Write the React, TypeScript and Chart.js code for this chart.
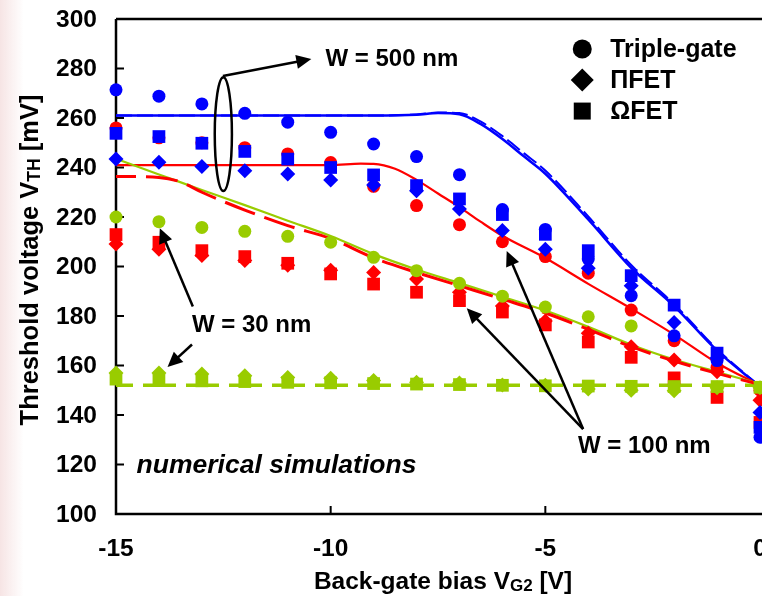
import React, { useEffect, useRef } from "react";
import { Chart, registerables } from "chart.js";

Chart.register(...registerables);

const BLUE = "#0000ff";
const RED = "#ff0000";
const GREEN = "#99cc00";
const FONT = "Arial, 'Liberation Sans', sans-serif";

// Back-gate bias steps (V)
const biasV = [-15, -14, -13, -12, -11, -10, -9, -8, -7, -6, -5, -4, -3, -2, -1, 0];
const yTickValues = [100, 120, 140, 160, 180, 200, 220, 240, 260, 280, 300];
const xTickValues = [-15, -10, -5, 0];

// Measured threshold voltage (mV) — Triple-gate (circles)
const tri500 = [271.4, 268.8, 265.7, 261.9, 258.3, 254.2, 249.5, 244.4, 237.1, 223, 215, 203, 188.2, 172, 162, 131];
const tri100 = [256, 252, 250, 248, 245.5, 242, 232.4, 224.6, 216.9, 210, 204, 197.3, 182.4, 170, 159.3, 150];
const tri30 = [220, 218.1, 215.8, 214.2, 212.2, 209.8, 203.7, 198.3, 193.2, 188, 183.6, 179.7, 176, null, null, null];

// ΠFET (diamonds)
const pi500 = [243.4, 242.1, 240.4, 238.7, 237.4, 235, 232.9, 230.6, 223.2, 214.5, 207, 199.3, 192.2, 177.4, 163, 141];
const pi100 = [209.1, 207, 204.4, 202.4, 200.5, 198.5, 197.6, 194.9, 189.6, 184, 178, 173, 167.6, 162.2, 157.5, 146];
const pi30 = [157, 157, 156.6, 155.9, 155.2, 154.8, 153.9, 153.2, 152.9, 152.1, 152, 150.5, 150, 149.8, 151, 151];

// ΩFET (squares)
const om500 = [253.8, 252.5, 249.8, 246.5, 243.4, 240, 237, 232.7, 227.3, 221, 213, 206.4, 196.3, 184.4, 165, 135];
const om100 = [212.9, 209.8, 206.4, 204, 201.3, 197, 192.9, 189.6, 186.2, 181.6, 176.4, 169.5, 163.3, 155, 147.1, 137];
const om30 = [154.5, 154, 153.8, 153.5, 153.2, 153, 152.7, 152.5, 152.3, 152, 151.8, 151.7, 151.6, 151.5, 151.5, 151.2];

// Numerical simulation curves
const sim500Bias = [-15, -12, -9, -8, -7.5, -7, -6.5, -6, -5.5, -5, -4, -3, -2, -1, 0];
const sim500Solid = [261, 261, 261, 261.3, 262, 261.5, 257.5, 251.5, 244.5, 237.5, 219, 199.5, 184, 166, 151.5];
const sim500Dash = [261, 261, 261, 261.4, 262.2, 262, 258.5, 252.7, 245.8, 238.8, 220.2, 200.6, 184.8, 166.6, 151.5];

const sim100Bias = [-15, -12, -10, -9.3, -9, -8.5, -8, -7.5, -7, -6.5, -6, -5, -4, -3, -2, -1, 0];
const sim100Solid = [241, 241, 241, 241.6, 241.5, 239.5, 235, 229.5, 224, 218, 212.4, 203.4, 193, 183, 172.5, 161, 152];

const sim100DashBias = [-15, -14, -13.5, -13, -12, -11, -10, -9, -8, -7, -6, -5, -4, -3, -2, -1, 0];
const sim100Dash = [236.4, 236, 234.2, 230, 222.8, 216.5, 211.3, 203.5, 197.6, 192.2, 186.8, 181.2, 174.6, 167.6, 161.8, 156.8, 152.3];

const sim30Bias = [-15, -14, -13, -12, -11, -10, -9, -8, -7, -6, -5, -4, -3, -2, -1, 0];
const sim30Solid = [243.5, 237.2, 230.9, 224.8, 218.5, 212.3, 205, 198.8, 193.3, 187.8, 182.2, 175.6, 168.4, 162.4, 157.4, 152.5];
const sim30FlatBias = [-15, 0];
const sim30Flat = [152, 152];

// Annotation anchors (bias V, mV)
const ellipse500 = { x: -12.5, y: 253.5, rx: 0.2, ry: 23 };
const arrow500 = { from: [-12.51, 277], to: [-10.45, 283.8] };
const label500 = { text: "W = 500 nm", x: -10.12, y: 283.8 };
const label30 = { text: "W = 30 nm", x: -13.23, y: 176.2 };
const arrows30 = [
  { from: [-13.21, 183.8], to: [-13.98, 215.5] },
  { from: [-13.23, 168.5], to: [-13.8, 159.4] },
];
const label100 = { text: "W = 100 nm", x: -4.24, y: 127.5 };
const arrows100 = [
  { from: [-4.12, 134.3], to: [-5.9, 206.3] },
  { from: [-4.12, 134.3], to: [-6.83, 183.1] },
];
const noteText = { text: "numerical simulations", x: -14.52, y: 119.5 };
const legendRows = [
  { shape: "circle", text: "Triple-gate", y: 287.9 },
  { shape: "diamond", text: "ΠFET", y: 275.4 },
  { shape: "square", text: "ΩFET", y: 262.8 },
];
const legendMarkerX = -4.14;
const legendTextX = -3.49;

type Pt = { x: number; y: number };
const pts = (xs: number[], ys: (number | null)[]): Pt[] =>
  xs
    .map((x, i) => ({ x, y: ys[i] as number }))
    .filter((p) => p.y !== null && p.y !== undefined);

function markers(label: string, ys: (number | null)[], color: string, style: string, radius: number, order: number) {
  return {
    label,
    data: pts(biasV, ys),
    showLine: false,
    pointStyle: style,
    pointRadius: radius,
    pointHoverRadius: radius,
    pointBackgroundColor: color,
    pointBorderColor: color,
    pointBorderWidth: 0,
    order,
    clip: false as const,
  };
}

function curve(label: string, xs: number[], ys: number[], color: string, width: number, dash: number[], dashOffset: number, order: number) {
  return {
    label,
    data: pts(xs, ys),
    borderColor: color,
    borderWidth: width,
    borderDash: dash,
    borderDashOffset: dashOffset,
    pointRadius: 0,
    cubicInterpolationMode: "monotone" as const,
    fill: false,
    order,
    clip: false as const,
  };
}

function drawRich(ctx: CanvasRenderingContext2D, parts: { t: string; size: number; dy: number }[], x: number, y: number, style: string) {
  let total = 0;
  parts.forEach((p) => {
    ctx.font = `${style} ${p.size}px ${FONT}`;
    total += ctx.measureText(p.t).width;
  });
  let cx = x - total / 2;
  ctx.textAlign = "left";
  parts.forEach((p) => {
    ctx.font = `${style} ${p.size}px ${FONT}`;
    ctx.fillText(p.t, cx, y + p.dy);
    cx += ctx.measureText(p.t).width;
  });
}

function drawArrow(ctx: CanvasRenderingContext2D, x1: number, y1: number, x2: number, y2: number) {
  const a = Math.atan2(y2 - y1, x2 - x1);
  const L = 15;
  const W = 7;
  ctx.beginPath();
  ctx.moveTo(x1, y1);
  ctx.lineTo(x2 - L * 0.7 * Math.cos(a), y2 - L * 0.7 * Math.sin(a));
  ctx.stroke();
  ctx.beginPath();
  ctx.moveTo(x2, y2);
  ctx.lineTo(x2 - L * Math.cos(a) + W * Math.sin(a), y2 - L * Math.sin(a) - W * Math.cos(a));
  ctx.lineTo(x2 - L * Math.cos(a) - W * Math.sin(a), y2 - L * Math.sin(a) + W * Math.cos(a));
  ctx.closePath();
  ctx.fill();
}

const framePlugin = {
  id: "frame",
  beforeDatasetsDraw(chart: any) {
    const { ctx, chartArea: ca, scales } = chart;
    const X = (v: number) => scales.x.getPixelForValue(v);
    const Y = (v: number) => scales.y.getPixelForValue(v);
    ctx.save();
    // soft tint along the left edge
    const g = ctx.createLinearGradient(0, 0, 24, 0);
    g.addColorStop(0, "rgba(236,196,196,0.45)");
    g.addColorStop(1, "rgba(236,196,196,0)");
    ctx.fillStyle = g;
    ctx.fillRect(0, 0, 24, chart.height);

    ctx.strokeStyle = "#000";
    ctx.lineWidth = 2.5;
    ctx.beginPath();
    ctx.moveTo(ca.left, ca.top);
    ctx.lineTo(ca.left, ca.bottom);
    ctx.lineTo(chart.width, ca.bottom);
    ctx.moveTo(ca.left, ca.top);
    ctx.lineTo(chart.width, ca.top);
    ctx.stroke();

    ctx.lineWidth = 2;
    ctx.beginPath();
    yTickValues.forEach((v) => {
      if (v === 100 || v === 300) return;
      ctx.moveTo(ca.left, Y(v));
      ctx.lineTo(ca.left + 8, Y(v));
    });
    xTickValues.forEach((v) => {
      if (v === -15 || v === 0) return;
      ctx.moveTo(X(v), ca.bottom);
      ctx.lineTo(X(v), ca.bottom - 8);
    });
    ctx.stroke();

    ctx.fillStyle = "#000";
    ctx.font = `bold 24.5px ${FONT}`;
    ctx.textAlign = "right";
    ctx.textBaseline = "middle";
    yTickValues.forEach((v) => ctx.fillText(String(v), ca.left - 19, Y(v) + 1));
    ctx.textAlign = "center";
    xTickValues.forEach((v) => ctx.fillText(String(v), X(v), ca.bottom + 35));

    // axis titles
    ctx.textBaseline = "middle";
    drawRich(
      ctx,
      [
        { t: "Back-gate bias V", size: 24.5, dy: 0 },
        { t: "G2", size: 17, dy: 4 },
        { t: " [V]", size: 24.5, dy: 0 },
      ],
      443,
      ca.bottom + 68,
      "bold"
    );
    ctx.save();
    ctx.translate(31, 260);
    ctx.rotate(-Math.PI / 2);
    drawRich(
      ctx,
      [
        { t: "Threshold voltage V", size: 25.5, dy: 0 },
        { t: "TH", size: 17.5, dy: 4 },
        { t: " [mV]", size: 25.5, dy: 0 },
      ],
      0,
      0,
      "bold"
    );
    ctx.restore();
    ctx.restore();
  },
  afterDatasetsDraw(chart: any) {
    const { ctx, scales } = chart;
    const X = (v: number) => scales.x.getPixelForValue(v);
    const Y = (v: number) => scales.y.getPixelForValue(v);
    ctx.save();
    ctx.strokeStyle = "#000";
    ctx.fillStyle = "#000";
    ctx.lineWidth = 2.5;

    // grouping ellipse for the 500 nm devices
    ctx.beginPath();
    ctx.ellipse(
      X(ellipse500.x),
      Y(ellipse500.y),
      Math.abs(X(ellipse500.x + ellipse500.rx) - X(ellipse500.x)),
      Math.abs(Y(ellipse500.y + ellipse500.ry) - Y(ellipse500.y)),
      0,
      0,
      Math.PI * 2
    );
    ctx.stroke();

    const arrows = [arrow500, ...arrows30, ...arrows100];
    ctx.lineWidth = 2.5;
    arrows.forEach((a) => drawArrow(ctx, X(a.from[0]), Y(a.from[1]), X(a.to[0]), Y(a.to[1])));

    ctx.textBaseline = "middle";
    ctx.textAlign = "left";
    ctx.font = `bold 24px ${FONT}`;
    [label500, label30, label100].forEach((l) => ctx.fillText(l.text, X(l.x), Y(l.y)));
    ctx.font = `italic bold 26.5px ${FONT}`;
    ctx.fillText(noteText.text, X(noteText.x), Y(noteText.y));

    // legend
    ctx.font = `bold 25px ${FONT}`;
    legendRows.forEach((r) => {
      const mx = X(legendMarkerX);
      const my = Y(r.y);
      ctx.beginPath();
      if (r.shape === "circle") {
        ctx.arc(mx, my, 9.5, 0, Math.PI * 2);
      } else if (r.shape === "diamond") {
        ctx.moveTo(mx, my - 11.5);
        ctx.lineTo(mx + 11.5, my);
        ctx.lineTo(mx, my + 11.5);
        ctx.lineTo(mx - 11.5, my);
        ctx.closePath();
      } else {
        ctx.rect(mx - 8.5, my - 8.5, 17, 17);
      }
      ctx.fill();
      ctx.fillText(r.text, X(legendTextX), my + 1);
    });
    ctx.restore();
  },
};

export default function App() {
  const ref = useRef<HTMLCanvasElement | null>(null);

  useEffect(() => {
    if (!ref.current) return;
    const chart = new Chart(ref.current, {
      type: "line",
      data: {
        datasets: [
          curve("500 nm sim", sim500Bias, sim500Solid, BLUE, 2.6, [], 0, 20),
          curve("500 nm sim dashed", sim500Bias, sim500Dash, BLUE, 2, [16, 5], 0, 21),
          curve("100 nm sim", sim100Bias, sim100Solid, RED, 2.2, [], 0, 18),
          curve("100 nm sim dashed", sim100DashBias, sim100Dash, RED, 3, [32, 10], 12, 16),
          curve("30 nm sim", sim30Bias, sim30Solid, GREEN, 2.2, [], 0, 17),
          curve("30 nm sim flat", sim30FlatBias, sim30Flat, GREEN, 3.5, [33, 10], 16, 19),
          markers("Triple-gate 100 nm", tri100, RED, "circle", 6.5, 9),
          markers("ΠFET 100 nm", pi100, RED, "rectRot", 7.5, 8),
          markers("ΩFET 100 nm", om100, RED, "rect", 9, 7),
          markers("ΠFET 30 nm", pi30, GREEN, "rectRot", 7.5, 6),
          markers("ΩFET 30 nm", om30, GREEN, "rect", 9, 5),
          markers("Triple-gate 30 nm", tri30, GREEN, "circle", 6.5, 4),
          markers("ΠFET 500 nm", pi500, BLUE, "rectRot", 7.5, 3),
          markers("Triple-gate 500 nm", tri500, BLUE, "circle", 6.5, 2),
          markers("ΩFET 500 nm", om500, BLUE, "rect", 9, 1),
        ] as any,
      },
      options: {
        responsive: false,
        maintainAspectRatio: false,
        animation: false,
        layout: { autoPadding: false, padding: { left: 116, top: 19, right: 2, bottom: 82 } },
        plugins: { legend: { display: false }, tooltip: { enabled: false } },
        events: [],
        scales: {
          x: { type: "linear", min: -15, max: 0, display: false },
          y: { type: "linear", min: 100, max: 300, display: false },
        },
      },
      plugins: [framePlugin],
    });
    return () => chart.destroy();
  }, []);

  return (
    <div
      style={{
        position: "fixed",
        left: 0,
        top: 0,
        width: 762,
        height: 596,
        overflow: "hidden",
        background: "#fff",
      }}
    >
      <canvas ref={ref} width={762} height={596} style={{ display: "block", width: 762, height: 596 }} />
    </div>
  );
}
